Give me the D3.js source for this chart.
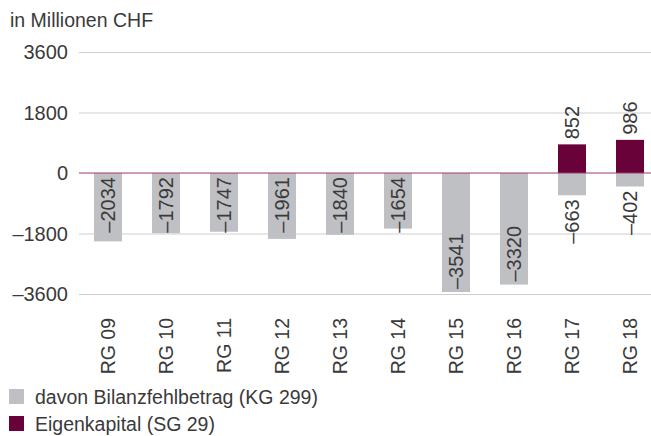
<!DOCTYPE html>
<html>
<head>
<meta charset="utf-8">
<script src="https://cdn.jsdelivr.net/npm/d3@7"></script>
<style>
  body { margin: 0; background: #fff; }
  svg text { font-family: "Liberation Sans", Arial, sans-serif; fill: #3a3a3a; }
</style>
</head>
<body>
<div id="chart"></div>
<script>
  // data
  const categories = ["RG 09", "RG 10", "RG 11", "RG 12", "RG 13", "RG 14", "RG 15", "RG 16", "RG 17", "RG 18"];
  const bilanzfehlbetrag = [-2034, -1792, -1747, -1961, -1840, -1654, -3541, -3320, -663, -402];
  const eigenkapital = [null, null, null, null, null, null, null, null, 852, 986];
  const yTicks = [3600, 1800, 0, -1800, -3600];
  const legendLabels = ["davon Bilanzfehlbetrag (KG 299)", "Eigenkapital (SG 29)"];

  const colours = ["#bfc0c4", "#690238"];
  const width = 651, height = 436;
  const numSize = 20, textSize = 19.5;

  const svg = d3.select("#chart")
    .append("svg")
      .attr("width", width)
      .attr("height", height);

  let x = d3.scaleBand()
    .domain(categories)
    .range([79, 659])
    .paddingInner(0.517)
    .paddingOuter(0.2585);

  let y = d3.scaleLinear()
    .domain([-3600, 3600])
    .range([294, 52]);

  // title
  svg.append("text")
    .attr("x", 10)
    .attr("y", 27)
    .style("font-size", textSize + "px")
    .text("in Millionen CHF");

  // grid + y labels
  svg.append("g")
    .selectAll("line")
    .data(yTicks.filter(d => d !== 0))
    .enter().append("line")
      .attr("x1", 79)
      .attr("x2", width)
      .attr("y1", d => y(d) + 0.5)
      .attr("y2", d => y(d) + 0.5)
      .attr("stroke", "#cfcfd1")
      .attr("stroke-width", 1);

  svg.append("g")
    .selectAll("text")
    .data(yTicks)
    .enter().append("text")
      .attr("x", 68)
      .attr("y", d => y(d))
      .attr("dy", "0.36em")
      .attr("text-anchor", "end")
      .style("font-size", numSize + "px")
      .text(d => d < 0 ? "\u2013" + Math.abs(d) : d);

  // gray bars (negative)
  svg.append("g")
    .selectAll("rect")
    .data(bilanzfehlbetrag)
    .enter().append("rect")
      .attr("x", (d, i) => x(categories[i]))
      .attr("width", x.bandwidth())
      .attr("y", y(0))
      .attr("height", d => y(d) - y(0))
      .attr("fill", colours[0]);

  // maroon bars (positive)
  const pos = eigenkapital.map((v, i) => ({cat: categories[i], v: v})).filter(d => d.v != null);
  svg.append("g")
    .selectAll("rect")
    .data(pos)
    .enter().append("rect")
      .attr("x", d => x(d.cat))
      .attr("width", x.bandwidth())
      .attr("y", d => y(d.v))
      .attr("height", d => y(0) - y(d.v))
      .attr("fill", colours[1]);

  // zero line
  svg.append("line")
    .attr("x1", 79)
    .attr("x2", width)
    .attr("y1", y(0))
    .attr("y2", y(0))
    .attr("stroke", "#9a3c6b")
    .attr("stroke-width", 1.2);

  // labels on gray bars: below short bars, at the end of long bars, else from the zero line
  svg.append("g")
    .selectAll("text")
    .data(bilanzfehlbetrag)
    .enter().append("text")
      .attr("transform", (d, i) => {
        const cx = x(categories[i]) + x.bandwidth() / 2;
        const h = y(d) - y(0);
        let ty;
        if (h < 40) ty = y(d) + 4;
        else if (h > 100) ty = y(d) - 3;
        else ty = y(0) + 4;
        return `translate(${cx},${ty}) rotate(-90)`;
      })
      .attr("text-anchor", (d) => {
        const h = y(d) - y(0);
        return h > 100 ? "start" : "end";
      })
      .attr("dy", "0.36em")
      .style("font-size", numSize + "px")
      .text(d => "\u2013" + Math.abs(d));

  // labels on maroon bars
  svg.append("g")
    .selectAll("text")
    .data(pos)
    .enter().append("text")
      .attr("transform", d => `translate(${x(d.cat) + x.bandwidth() / 2},${y(d.v) - 5}) rotate(-90)`)
      .attr("dy", "0.36em")
      .attr("text-anchor", "start")
      .style("font-size", numSize + "px")
      .text(d => d.v);

  // category labels
  svg.append("g")
    .selectAll("text")
    .data(categories)
    .enter().append("text")
      .attr("transform", d => `translate(${x(d) + x.bandwidth() / 2},318) rotate(-90)`)
      .attr("dy", "0.36em")
      .attr("text-anchor", "end")
      .style("font-size", textSize + "px")
      .text(d => d);

  // legend
  let legend = svg.append("g")
    .selectAll("g")
    .data(legendLabels)
    .enter().append("g")
      .attr("transform", (d, i) => `translate(9,${389 + i * 27})`);

  legend.append("rect")
    .attr("width", 15)
    .attr("height", 15)
    .attr("fill", (d, i) => colours[i]);

  legend.append("text")
    .attr("x", 26)
    .attr("y", 15)
    .style("font-size", textSize + "px")
    .text(d => d);
</script>
</body>
</html>
